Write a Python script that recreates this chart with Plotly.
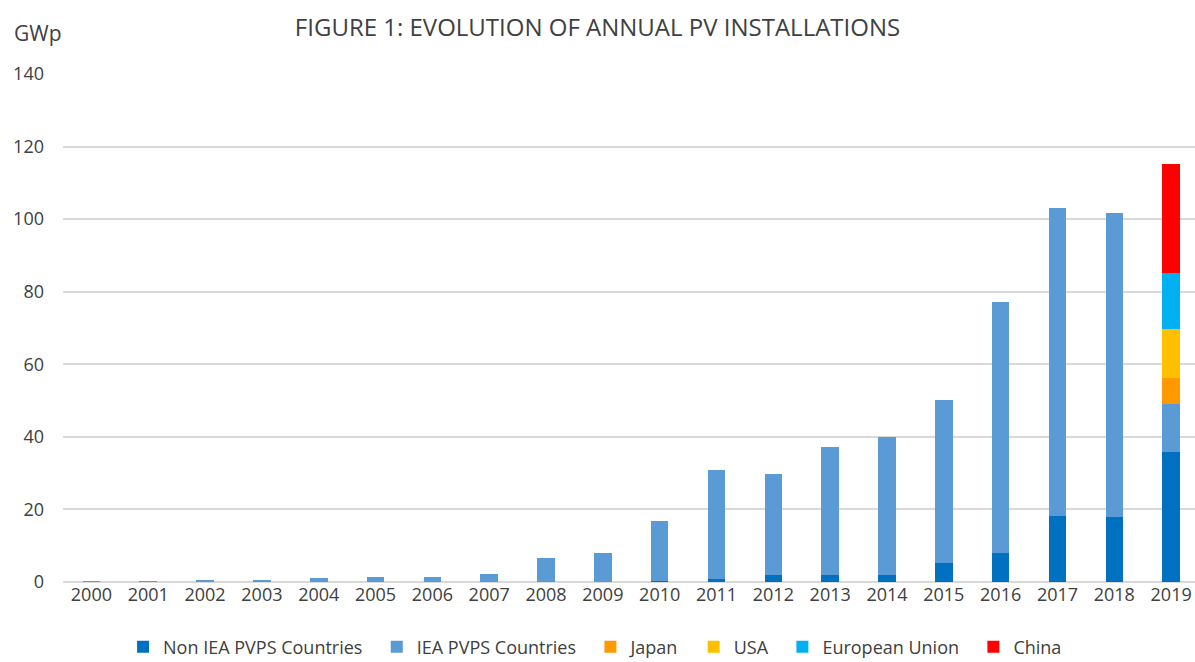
import plotly.graph_objects as go

YEARS = [str(y) for y in range(2000, 2020)]

# GWp
NON_IEA = [0, 0, 0, 0, 0, 0, 0, 0, 0, 0, 0.3, 0.7, 1.8, 1.8, 1.9, 5.1, 7.9, 18.2, 18.0, 35.9]
IEA = [0.2, 0.2, 0.3, 0.3, 1.1, 1.5, 1.5, 2.3, 6.7, 8.1, 16.5, 30.3, 27.9, 35.5, 38.0, 45.1, 69.3, 85.0, 83.7, 13.1]
JAPAN = [0] * 19 + [7.3]
USA = [0] * 19 + [13.3]
EU = [0] * 19 + [15.6]
CHINA = [0] * 19 + [30.1]

SERIES = [
    ('Non IEA PVPS Countries', NON_IEA, '#0070C0'),
    ('IEA PVPS Countries', IEA, '#5B9BD5'),
    ('Japan', JAPAN, '#FF9900'),
    ('USA', USA, '#FFC000'),
    ('European Union', EU, '#00B0F0'),
    ('China', CHINA, '#FF0000'),
]

FONT = 'Open Sans, Lato, sans-serif'
TXT = '#404040'
PAD = '\u00a0' * 2

fig = go.Figure()
for name, vals, color in SERIES:
    fig.add_trace(go.Bar(x=YEARS, y=vals, name=name + PAD, marker=dict(color=color, line=dict(width=0))))

fig.update_layout(
    width=1195,
    height=662,
    barmode='stack',
    bargap=0.69,
    template='plotly_white',
    paper_bgcolor='white',
    plot_bgcolor='white',
    margin=dict(l=63, r=0, t=74, b=80, autoexpand=False),
    font=dict(family=FONT, size=17, color=TXT),
    title=dict(text='FIGURE 1: EVOLUTION OF ANNUAL PV INSTALLATIONS', x=0.5, xanchor='center',
               y=1 - 28 / 662, yref='container', yanchor='middle', automargin=False,
               font=dict(size=24, color=TXT)),
    legend=dict(orientation='h', x=0.474, xanchor='center', y=-0.128, yanchor='middle',
                font=dict(size=18, color=TXT), traceorder='normal', itemwidth=30),
    showlegend=True,
)
fig.update_xaxes(type='category', range=[-0.5, 19.42], showgrid=False, showline=False,
                 automargin=False, ticks='', tickfont=dict(size=18, color=TXT))
fig.update_yaxes(range=[0, 140], dtick=20, showgrid=True, gridcolor='#D9D9D9', gridwidth=1.5,
                 zeroline=True, zerolinecolor='#D9D9D9', zerolinewidth=1.5, automargin=False,
                 ticks='', ticklabelstandoff=18, tickfont=dict(size=18, color=TXT))
fig.add_annotation(text='GWp', xref='paper', yref='paper', x=-0.045, y=1.08, xanchor='left',
                   yanchor='middle', showarrow=False, font=dict(size=21, color=TXT))

# drop the page's default body margin so the 1195x662 figure fills the window
fig.write_html('out.html', config={'displayModeBar': False},
               post_script="document.body.style.margin='0';")
